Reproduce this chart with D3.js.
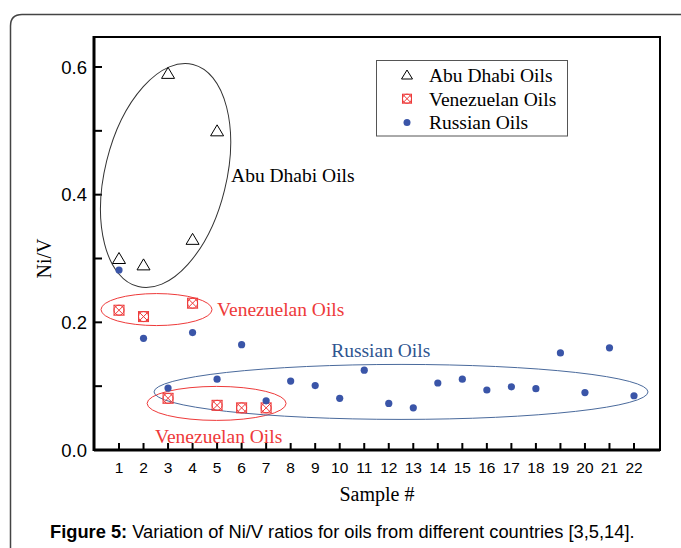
<!DOCTYPE html>
<html>
<head>
<meta charset="utf-8">
<script src="https://cdn.jsdelivr.net/npm/d3@7"></script>
<style>
  body { margin: 0; background: #fff; }
  svg { display: block; }
</style>
</head>
<body>
<svg id="chart" width="681" height="548"></svg>
<script>
//// data
var samples = d3.range(1, 23);
var abuX = [1, 2, 3, 4, 5],
    abuY = [0.30, 0.29, 0.59, 0.33, 0.50];
var venX = [1, 2, 4, 3, 5, 6, 7],
    venY = [0.219, 0.209, 0.230, 0.081, 0.070, 0.066, 0.066];
var rusX = samples,
    rusY = [0.282, 0.175, 0.097, 0.184, 0.111, 0.165, 0.077, 0.108, 0.101, 0.081, 0.125,
            0.073, 0.066, 0.105, 0.111, 0.094, 0.099, 0.096, 0.152, 0.090, 0.160, 0.085];
var yTicks = [0, 0.2, 0.4, 0.6],
    yMinor = [0.1, 0.3, 0.5];

var svg = d3.select("svg#chart");
var plotL = 94, plotR = 660, plotT = 37, plotB = 450;
var serif = "Liberation Serif, Times New Roman, serif",
    sans = "Liberation Sans, Arial, sans-serif";

var x = d3.scaleLinear().domain([1, 22]).range([119, 634]);
var y = d3.scaleLinear().domain([0, 0.647]).range([plotB, plotT]);

var red = "#ee3a3a", blue = "#3a55a8", ringBlue = "#4a6a9c";

// outer figure frame (rounded top-left)
svg.append("path")
   .attr("d", "M10.5,548 L10.5,26 Q10.5,14.5 22,14.5 L681,14.5")
   .attr("fill", "none").attr("stroke", "#444").attr("stroke-width", 1.5);

// plot box
svg.append("rect")
   .attr("x", plotL).attr("y", plotT)
   .attr("width", plotR - plotL).attr("height", plotB - plotT)
   .attr("fill", "none").attr("stroke", "#000").attr("stroke-width", 2);
svg.append("line").attr("x1", plotL).attr("x2", plotL).attr("y1", plotT - 1).attr("y2", plotB + 1)
   .attr("stroke", "#000").attr("stroke-width", 3);
svg.append("line").attr("x1", plotL).attr("x2", plotR).attr("y1", plotB).attr("y2", plotB)
   .attr("stroke", "#000").attr("stroke-width", 3);

// y axis ticks (inward)
svg.selectAll(".ytick").data(yTicks.concat(yMinor)).enter().append("line")
   .attr("x1", plotL).attr("x2", plotL + 8)
   .attr("y1", function(d) { return y(d); }).attr("y2", function(d) { return y(d); })
   .attr("stroke", "#000").attr("stroke-width", 2);
svg.selectAll(".ylab").data(yTicks).enter().append("text")
   .attr("x", plotL - 7).attr("y", function(d) { return y(d); })
   .attr("dy", "0.36em").attr("text-anchor", "end")
   .style("font-family", sans).style("font-size", "18.5px")
   .text(function(d) { return d.toFixed(1); });

// x axis ticks (inward)
svg.selectAll(".xtick").data(samples).enter().append("line")
   .attr("x1", function(d) { return x(d); }).attr("x2", function(d) { return x(d); })
   .attr("y1", plotB).attr("y2", plotB - 7)
   .attr("stroke", "#000").attr("stroke-width", 2);
svg.selectAll(".xlab").data(samples).enter().append("text")
   .attr("x", function(d) { return x(d); }).attr("y", plotB + 23)
   .attr("text-anchor", "middle")
   .style("font-family", sans).style("font-size", "15.5px")
   .text(function(d) { return d; });

// axis titles
svg.append("text")
   .attr("transform", "translate(44," + y(0.3) + ") rotate(-90)")
   .attr("text-anchor", "middle").attr("dy", "0.35em")
   .style("font-family", serif).style("font-size", "20px")
   .text("Ni/V");
svg.append("text")
   .attr("x", 377).attr("y", 501).attr("text-anchor", "middle")
   .style("font-family", serif).style("font-size", "20px")
   .text("Sample #");

// group annotations (ellipses in data units)
var rings = [
  {cx: 2.9, cy: 0.43, rx: 60.7, ry: 114.4, rot: 13.85, color: "#333"},
  {cx: 2.53, cy: 0.22, rx: 55.5, ry: 16, rot: 0, color: red},
  {cx: 4.98, cy: 0.073, rx: 69.5, ry: 17, rot: 0, color: red},
  {cx: 12.5, cy: 0.091, rx: 247, ry: 27.5, rot: 0, color: ringBlue}
];
svg.selectAll(".ring").data(rings).enter().append("ellipse")
   .attr("transform", function(d) { return "translate(" + x(d.cx) + "," + y(d.cy) + ") rotate(" + d.rot + ")"; })
   .attr("rx", function(d) { return d.rx; }).attr("ry", function(d) { return d.ry; })
   .attr("fill", "none").attr("stroke", function(d) { return d.color; }).attr("stroke-width", 1);

var notes = [
  {x: 5.57, y: 0.431, text: "Abu Dhabi Oils", color: "#000"},
  {x: 5.0, y: 0.221, text: "Venezuelan Oils", color: red},
  {x: 2.47, y: 0.022, text: "Venezuelan Oils", color: red},
  {x: 9.65, y: 0.156, text: "Russian Oils", color: "#2f5590"}
];
svg.selectAll(".note").data(notes).enter().append("text")
   .attr("x", function(d) { return x(d.x); }).attr("y", function(d) { return y(d.y); })
   .attr("dy", "0.35em").attr("fill", function(d) { return d.color; })
   .style("font-family", serif).style("font-size", "19.5px")
   .text(function(d) { return d.text; });

// marker shapes
function triangle(g) {
  g.append("path").attr("d", "M0,-6 L6.5,5 L-6.5,5 Z")
   .attr("fill", "none").attr("stroke", "#000").attr("stroke-width", 1);
}
function crossBox(g) {
  g.append("rect").attr("x", -5).attr("y", -5).attr("width", 10).attr("height", 10)
   .attr("fill", "none").attr("stroke", red).attr("stroke-width", 1);
  g.append("circle").attr("r", 5).attr("fill", "none").attr("stroke", red).attr("stroke-width", 1);
  g.append("path").attr("d", "M-5,-5 L5,5 M5,-5 L-5,5")
   .attr("fill", "none").attr("stroke", red).attr("stroke-width", 1);
}
function dot(g) {
  g.append("circle").attr("r", 3.6).attr("fill", blue);
}

svg.selectAll(".abu").data(abuX).enter().append("g")
   .attr("transform", function(d, i) { return "translate(" + x(d) + "," + y(abuY[i]) + ")"; })
   .each(function() { triangle(d3.select(this)); });
svg.selectAll(".ven").data(venX).enter().append("g")
   .attr("transform", function(d, i) { return "translate(" + x(d) + "," + y(venY[i]) + ")"; })
   .each(function() { crossBox(d3.select(this)); });
svg.selectAll(".rus").data(rusX).enter().append("g")
   .attr("transform", function(d, i) { return "translate(" + x(d) + "," + y(rusY[i]) + ")"; })
   .each(function() { dot(d3.select(this)); });

// legend
var legend = svg.append("g");
legend.append("rect").attr("x", 376.5).attr("y", 60.5).attr("width", 191).attr("height", 75.5)
   .attr("fill", "#fff").attr("stroke", "#555").attr("stroke-width", 1);
var legItems = [
  {name: "Abu Dhabi Oils", draw: function(g) {
      g.append("path").attr("d", "M0,-5 L5.5,4 L-5.5,4 Z").attr("fill", "none").attr("stroke", "#000"); }},
  {name: "Venezuelan Oils", draw: function(g) {
      g.append("rect").attr("x", -4.5).attr("y", -4.5).attr("width", 9).attr("height", 9)
       .attr("fill", "none").attr("stroke", red);
      g.append("circle").attr("r", 4.5).attr("fill", "none").attr("stroke", red);
      g.append("path").attr("d", "M-4.5,-4.5 L4.5,4.5 M4.5,-4.5 L-4.5,4.5").attr("stroke", red); }},
  {name: "Russian Oils", draw: function(g) {
      g.append("circle").attr("r", 3.5).attr("fill", blue); }}
];
var rows = legend.selectAll(".leg").data(legItems).enter().append("g")
   .attr("transform", function(d, i) { return "translate(0," + (75 + i * 23.7) + ")"; });
rows.each(function(d) { d.draw(d3.select(this).append("g").attr("transform", "translate(407,0)")); });
rows.append("text").attr("x", 429).attr("dy", "0.35em")
   .style("font-family", serif).style("font-size", "19.5px")
   .text(function(d) { return d.name; });

// caption
var cap = svg.append("text").attr("x", 50).attr("y", 538)
   .style("font-family", sans).style("font-size", "18.3px");
cap.append("tspan").style("font-weight", "bold").text("Figure 5:");
cap.append("tspan").text(" Variation of Ni/V ratios for oils from different countries [3,5,14].");
</script>
</body>
</html>
